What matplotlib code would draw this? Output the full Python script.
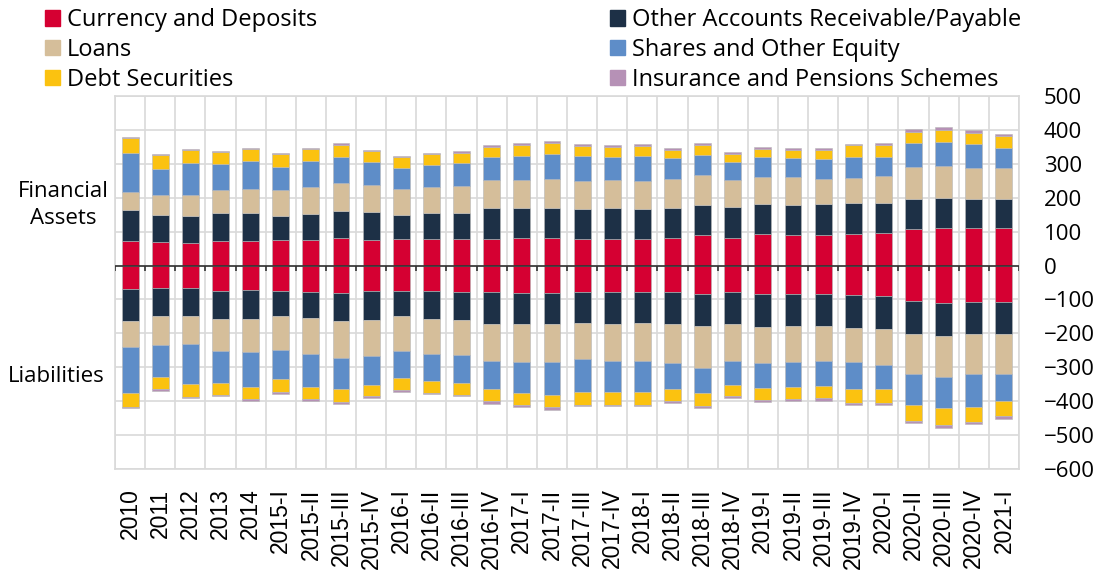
import matplotlib
matplotlib.use("Agg")
import matplotlib.pyplot as plt
import matplotlib.patches as mpatches
import numpy as np

plt.rcParams['font.family'] = ['Open Sans', 'DejaVu Sans']

periods = ['2010', '2011', '2012', '2013', '2014',
           '2015-I', '2015-II', '2015-III', '2015-IV',
           '2016-I', '2016-II', '2016-III', '2016-IV',
           '2017-I', '2017-II', '2017-III', '2017-IV',
           '2018-I', '2018-II', '2018-III', '2018-IV',
           '2019-I', '2019-II', '2019-III', '2019-IV',
           '2020-I', '2020-II', '2020-III', '2020-IV', '2021-I']

# financial assets (positive side)
currency_a = [71, 68, 66, 73, 72, 74, 75, 80, 75, 77, 77, 77, 78, 80, 80,
              77, 78, 78, 82, 90, 82, 92, 91, 91, 93, 95, 107, 110, 110, 112]
other_a = [92, 80, 81, 81, 82, 71, 76, 82, 84, 72, 78, 79, 92, 90, 91,
           90, 92, 89, 88, 88, 91, 90, 89, 90, 90, 90, 90, 90, 87, 85]
loans_a = [55, 60, 60, 69, 73, 77, 80, 81, 78, 78, 78, 78, 81, 82, 84,
           82, 83, 83, 84, 88, 78, 79, 80, 75, 76, 80, 93, 95, 90, 91]
shares_a = [113, 78, 96, 77, 82, 69, 78, 77, 69, 61, 64, 67, 69, 71, 75,
            74, 68, 73, 62, 61, 54, 59, 56, 57, 62, 56, 70, 68, 70, 59]
debt_a = [45, 39, 39, 34, 34, 37, 35, 36, 33, 31, 31, 32, 30, 31, 32,
          30, 30, 29, 26, 28, 24, 24, 26, 28, 33, 33, 35, 38, 34, 34]
insur_a = [3, 3, 3, 3, 4, 4, 4, 4, 3, 4, 5, 5, 6, 6, 5,
           5, 5, 6, 6, 6, 5, 6, 6, 5, 5, 7, 7, 7, 8, 7]

# liabilities (negative side)
currency_l = [-69, -67, -67, -74, -73, -75, -77, -80, -74, -75, -75, -77, -78, -82, -82,
              -78, -78, -78, -79, -84, -77, -84, -84, -84, -87, -90, -106, -111, -108, -108]
other_l = [-94, -81, -81, -83, -84, -74, -78, -83, -87, -75, -82, -83, -93, -91, -91,
           -91, -93, -91, -92, -93, -95, -96, -94, -95, -96, -96, -95, -96, -93, -93]
loans_l = [-76, -85, -82, -94, -97, -100, -105, -110, -105, -102, -103, -104, -110, -112, -112,
           -108, -111, -113, -115, -125, -108, -108, -107, -102, -100, -107, -120, -123, -118, -119]
shares_l = [-136, -95, -118, -94, -103, -85, -97, -90, -85, -79, -79, -81, -84, -91, -98,
            -97, -92, -92, -79, -75, -72, -72, -72, -73, -80, -70, -89, -91, -97, -79]
debt_l = [-42, -37, -39, -36, -36, -40, -37, -39, -35, -36, -37, -36, -35, -35, -35,
          -37, -36, -36, -35, -36, -34, -36, -37, -38, -41, -41, -47, -49, -45, -46]
insur_l = [-2, -5, -3, -4, -5, -5, -4, -7, -5, -5, -4, -5, -8, -6, -7,
           -4, -4, -5, -5, -8, -6, -7, -6, -7, -7, -7, -8, -8, -7, -7]

names = ['Currency and Deposits', 'Other Accounts Receivable/Payable', 'Loans',
         'Shares and Other Equity', 'Debt Securities', 'Insurance and Pensions Schemes']
colors = ['#D50032', '#1D3046', '#D5BE9A', '#5E8DC8', '#FBC210', '#B691B6']

assets = [currency_a, other_a, loans_a, shares_a, debt_a, insur_a]
liabs = [currency_l, other_l, loans_l, shares_l, debt_l, insur_l]

fig = plt.figure(figsize=(11.01, 5.71), dpi=100)
ax = fig.add_axes([0.1045, 0.1786, 0.821, 0.6533])

x = np.arange(len(periods))
w = 0.56
bot_p = np.zeros(len(periods))
bot_n = np.zeros(len(periods))
for vals_a, vals_l, c in zip(assets, liabs, colors):
    ax.bar(x, vals_a, w, bottom=bot_p, color=c, edgecolor='#b8b8b8', linewidth=0.4, zorder=3)
    ax.bar(x, vals_l, w, bottom=bot_n, color=c, edgecolor='#b8b8b8', linewidth=0.4, zorder=3)
    bot_p += np.array(vals_a)
    bot_n += np.array(vals_l)

ax.set_xlim(-0.5, len(periods) - 0.5)
ax.set_ylim(-600, 500)
ax.set_yticks(np.arange(-600, 501, 100))
ax.yaxis.tick_right()
ax.tick_params(axis='y', length=0, pad=18, labelsize=16)
for lab in ax.get_yticklabels():
    lab.set_horizontalalignment('left')

ax.set_xticks(x)
ax.set_xticklabels(periods, rotation=90, fontsize=16.5, family='Liberation Sans')
ax.tick_params(axis='x', length=0, pad=14)
ax.set_xticks(np.arange(-0.5, len(periods)), minor=True)
ax.tick_params(axis='x', which='minor', length=0)

ax.grid(axis='y', color='#d9d9d9', linewidth=1.2, zorder=0)
ax.grid(axis='x', which='minor', color='#d9d9d9', linewidth=1.2, zorder=0)
ax.grid(axis='x', which='major', visible=False)
for s in ax.spines.values():
    s.set_color('#d9d9d9')
    s.set_linewidth(1.2)

# zero line with small ticks at category boundaries
ax.axhline(0, color='#333333', linewidth=1.2, zorder=4)
ax.vlines(np.arange(-0.5, len(periods)), -15, 0, color='#333333', linewidth=1.2, zorder=4)

fig.text(63 / 1101, 1 - 205 / 571, 'Financial\nAssets', ha='center', va='center',
         fontsize=16, linespacing=1.35)
fig.text(56 / 1101, 1 - 377 / 571, 'Liabilities', ha='center', va='center', fontsize=16)

handles = [mpatches.Patch(color=c, label=n) for c, n in zip(colors, names)]
left_h = [handles[0], handles[2], handles[4]]
right_h = [handles[1], handles[3], handles[5]]
kw = dict(frameon=False, fontsize=17, handlelength=0.64, handleheight=0.64,
          handletextpad=0.3, labelspacing=0.25, borderpad=0, borderaxespad=0,
          loc='upper left')
leg1 = fig.legend(handles=left_h, bbox_to_anchor=(45 / 1101, 1 - 8 / 571), **kw)
leg2 = fig.legend(handles=right_h, bbox_to_anchor=(610 / 1101, 1 - 8 / 571), **kw)

fig.savefig('out.png', dpi=100)
